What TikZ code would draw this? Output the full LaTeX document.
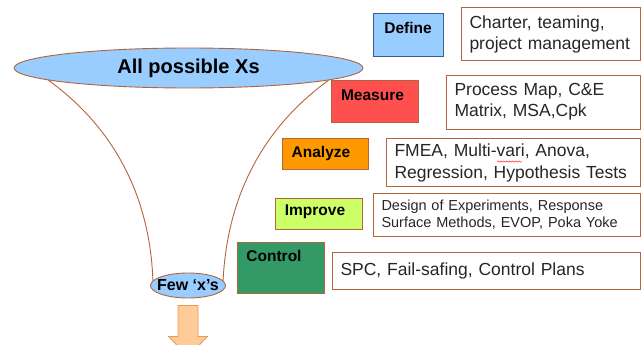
\documentclass[tikz,border=0pt]{standalone}
\usepackage{fontspec}
\setmainfont{Liberation Sans}
\usepackage{tikz}
\usetikzlibrary{shapes,positioning,calc,decorations.pathmorphing}
\definecolor{skyfill}{HTML}{99CCFF}
\definecolor{rimbrown}{HTML}{B4643C}
\definecolor{defineline}{HTML}{3A5F8F}
\definecolor{measurefill}{HTML}{FF5050}
\definecolor{analyzefill}{HTML}{FF9900}
\definecolor{improvefill}{HTML}{CCFF66}
\definecolor{controlfill}{HTML}{339966}
\definecolor{arrowfill}{HTML}{FFCC99}
\definecolor{arrowline}{HTML}{E89A5C}

\begin{document}
\begin{tikzpicture}[
			x = 1pt, y = -1pt,
			funnel/.style = {ellipse, draw=rimbrown, fill=skyfill, inner sep=0pt, line width=0.9pt},
			stage/.style = {draw=rimbrown, line width=1pt, inner sep=0pt, minimum width=87},
			stagetxt/.style = {font=\fontsize{15.5}{18}\selectfont\bfseries},
			tool/.style = {draw=rimbrown, line width=1pt, inner xsep=8pt, inner ysep=0pt, align=left,
				anchor=east, text=black!85, font=\fontsize{17.5}{21}\selectfont},
			arrowbox/.style = {draw=arrowline, fill=arrowfill, line width=0.9pt, line join=miter}]

			\useasboundingbox (0,0) rectangle (642,345);

			% funnel
			\node[funnel, minimum width=349, minimum height=40, font=\fontsize{20}{24}\selectfont\bfseries] (all) at (188.5,68) {All possible Xs};
			\node[funnel, minimum width=75, minimum height=25,
				label={[font=\fontsize{16}{19}\selectfont\bfseries]center:Few ‘x’s}] (few) at (188,285.5) {};
			\draw[rimbrown, line width=0.9pt] (all.185.6) .. controls (117,130) and (150,200) .. (few.172);
			\draw[rimbrown, line width=0.9pt] (all.-5.6) .. controls (260,130) and (227,200) .. (few.8);

			\draw[arrowbox] ($(few.south)+(-10,7)$) -- ++(20,0) -- ++(0,31) -- ++(9.5,0) -- ++(-19.5,20)
				-- ++(-19.5,-20) -- ++(9.5,0) -- cycle;

			% phases
			\node[stage, fill=skyfill, draw=defineline, minimum width=70, minimum height=43,
				label={[stagetxt, yshift=7.5]center:Define}] (define) at (408,35.5) {};
			\node[stage, fill=measurefill, minimum height=42,
				label={[stagetxt, xshift=-2, yshift=6]center:Measure}] (measure) at (374.5,101) {};
			\node[stage, fill=analyzefill, minimum width=86, minimum height=31,
				label={[stagetxt, xshift=-4]center:Analyze}] (analyze) at (325,153.5) {};
			\node[stage, fill=improvefill, minimum height=31,
				label={[stagetxt, xshift=-3.5, yshift=1.5]center:Improve}] (improve) at (318.5,213.5) {};
			\node[stage, fill=controlfill, minimum height=51,
				label={[stagetxt, xshift=-6.5, yshift=11.5]center:Control}] (control) at (280.5,267.5) {};

			% tools
			\node[tool, text width=163, minimum height=53] (definetool) at (641,34.5) {Charter, teaming,\\project management};
			\node[tool, text width=178, minimum height=54] (measuretool) at (641,102) {Process Map, C\&E\\Matrix, MSA,Cpk};
			\node[tool, text width=238, minimum height=48, font=\fontsize{17.5}{22}\selectfont] (analyzetool) at (641,162.5) {FMEA, Multi-vari, Anova,\\Regression, Hypothesis Tests};
			\node[tool, text width=251, minimum height=43, font=\fontsize{14.5}{17}\selectfont] (improvetool) at (641,214.5) {Design of Experiments, Response\\Surface Methods, EVOP, Poka Yoke};
			\node[tool, text width=292, minimum height=37] (controltool) at (641,270.5) {SPC, Fail-safing, Control Plans};

			\draw[red, decorate, decoration={snake, amplitude=0.7pt, segment length=3pt}] (497,161.5) -- (522,161.5);

		\end{tikzpicture}
\end{document}
